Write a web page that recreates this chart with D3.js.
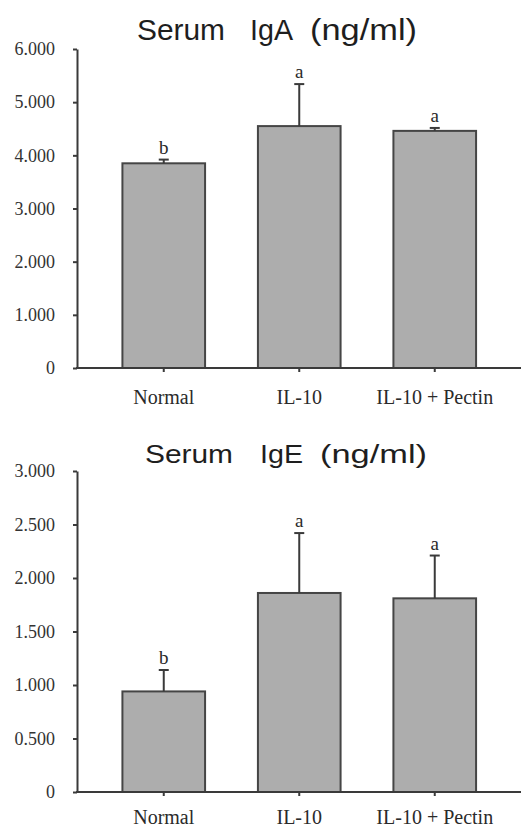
<!DOCTYPE html>
<html>
<head>
<meta charset="utf-8">
<script src="https://cdn.jsdelivr.net/npm/d3@7"></script>
<style>
  body { margin: 0; background: #fff; }
  svg { display: block; }
</style>
</head>
<body>
<script>
// groups + values
var groups = ["Normal", "IL-10", "IL-10 + Pectin"];
var letters = ["b", "a", "a"];

var igaMean = [3850, 4550, 4460];
var igaErr = [70, 790, 55];
var igaTicks = [0, 1000, 2000, 3000, 4000, 5000, 6000];
var igaTickLabels = ["0", "1.000", "2.000", "3.000", "4.000", "5.000", "6.000"];

var igeMean = [0.94, 1.86, 1.81];
var igeErr = [0.20, 0.56, 0.40];
var igeTicks = [0, 0.5, 1, 1.5, 2, 2.5, 3];
var igeTickLabels = ["0", "0.500", "1.000", "1.500", "2.000", "2.500", "3.000"];

var W = 521, H = 828;
var svg = d3.select("body").append("svg").attr("width", W).attr("height", H);

var ink = "#3a3a3a";
var serif = "'Liberation Serif', 'Times New Roman', serif";
var sans = "'Liberation Sans', Arial, sans-serif";

// same x layout for both panels
var x = d3.scaleBand().domain(groups).range([96, 502.5])
    .paddingInner(0.39).paddingOuter(0.195);

function drawPanel(opt) {
  var g = svg.append("g");
  var y = d3.scaleLinear().domain([0, opt.ticks[opt.ticks.length - 1]])
      .range([opt.y0, opt.y1]);

  // title, pieces spaced like the original
  var t = g.append("text")
      .attr("transform", "translate(0," + opt.titleY + ") scale(1," + opt.titleSy + ")")
      .style("font-family", sans).style("font-size", "30px").attr("fill", "#1e1e1e");
  opt.title.forEach(function(p) {
    t.append("tspan").attr("x", p.x).attr("y", 0)
      .attr("textLength", p.w).attr("lengthAdjust", "spacingAndGlyphs").text(p.s);
  });

  // bars
  g.selectAll(".bar").data(opt.mean).enter().append("rect")
    .attr("x", function(d, i) { return x(groups[i]); })
    .attr("y", function(d) { return y(d); })
    .attr("width", x.bandwidth())
    .attr("height", function(d) { return y(0) - y(d); })
    .attr("fill", "#adadad").attr("stroke", "#454545").attr("stroke-width", 2);

  // error bars (upper only)
  var eb = g.selectAll(".err").data(opt.mean).enter().append("g");
  eb.append("line")
    .attr("x1", function(d, i) { return x(groups[i]) + x.bandwidth() / 2; })
    .attr("x2", function(d, i) { return x(groups[i]) + x.bandwidth() / 2; })
    .attr("y1", function(d) { return y(d); })
    .attr("y2", function(d, i) { return y(d + opt.err[i]); })
    .attr("stroke", ink).attr("stroke-width", 2);
  eb.append("line")
    .attr("x1", function(d, i) { return x(groups[i]) + x.bandwidth() / 2 - 5; })
    .attr("x2", function(d, i) { return x(groups[i]) + x.bandwidth() / 2 + 5; })
    .attr("y1", function(d, i) { return y(d + opt.err[i]); })
    .attr("y2", function(d, i) { return y(d + opt.err[i]); })
    .attr("stroke", ink).attr("stroke-width", 2);
  eb.append("text")
    .attr("x", function(d, i) { return x(groups[i]) + x.bandwidth() / 2; })
    .attr("y", function(d, i) { return y(d + opt.err[i]) - 6; })
    .attr("text-anchor", "middle")
    .style("font-family", serif).style("font-size", "19px").attr("fill", "#2a2a2a")
    .text(function(d, i) { return letters[i]; });

  // y axis
  var yAxis = d3.axisLeft(y).tickValues(opt.ticks)
      .tickFormat(function(d, i) { return opt.tickLabels[i]; })
      .tickSize(4).tickSizeOuter(0).tickPadding(18);
  var ya = g.append("g").attr("transform", "translate(77,0)").call(yAxis);
  ya.select(".domain").attr("stroke", ink).attr("stroke-width", 2);
  ya.selectAll(".tick line").attr("stroke", ink).attr("stroke-width", 2);
  ya.selectAll(".tick text").style("font-family", serif).style("font-size", "18px")
    .attr("fill", "#333");

  // x axis, line runs to the right edge
  var xAxis = d3.axisBottom(x).tickSize(4).tickSizeOuter(0).tickPadding(opt.xPad);
  var xa = g.append("g").attr("transform", "translate(0," + y(0) + ")").call(xAxis);
  xa.select(".domain").remove();
  xa.append("line").attr("x1", 76).attr("x2", W).attr("stroke", ink).attr("stroke-width", 2);
  xa.selectAll(".tick line").attr("stroke", ink).attr("stroke-width", 2);
  xa.selectAll(".tick text").style("font-family", serif).style("font-size", "20px")
    .attr("fill", "#2a2a2a");
}

drawPanel({
  mean: igaMean, err: igaErr, ticks: igaTicks, tickLabels: igaTickLabels,
  y0: 368, y1: 49, titleY: 40, titleSy: 1, xPad: 18,
  title: [{ s: "Serum", x: 137, w: 88 }, { s: "IgA", x: 250, w: 43 }, { s: "(ng/ml)", x: 310, w: 107 }]
});

drawPanel({
  mean: igeMean, err: igeErr, ticks: igeTicks, tickLabels: igeTickLabels,
  y0: 792, y1: 471, titleY: 463, titleSy: 0.85, xPad: 14,
  title: [{ s: "Serum", x: 145, w: 88 }, { s: "IgE", x: 260, w: 43 }, { s: "(ng/ml)", x: 320, w: 107 }]
});
</script>
</body>
</html>
